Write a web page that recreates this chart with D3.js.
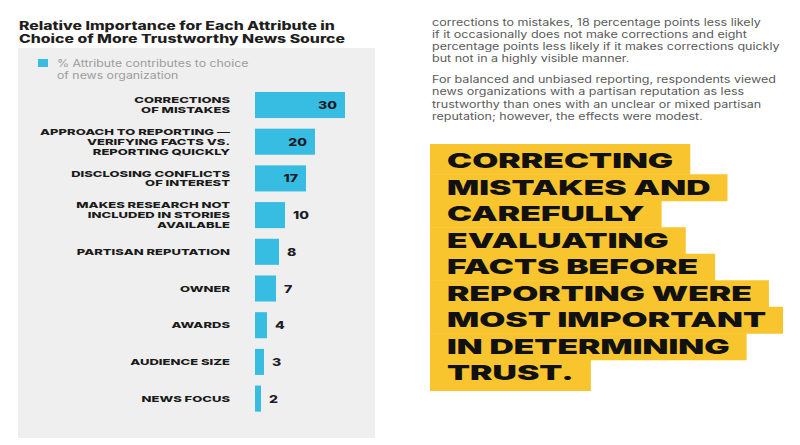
<!DOCTYPE html>
<html><head><meta charset="utf-8">
<script src="https://cdn.jsdelivr.net/npm/d3@7"></script>
<style>html,body{margin:0;padding:0;background:#fff;}svg{display:block;}</style>
</head><body>
<svg id="c" width="800" height="445"></svg>
<script>
// ---- data ----
const titleLines = ["Relative Importance for Each Attribute in", "Choice of More Trustworthy News Source"];
const legendLines = ["% Attribute contributes to choice", "of news organization"];
const categories = [
  "CORRECTIONS|OF MISTAKES",
  "APPROACH TO REPORTING —|VERIFYING FACTS VS.|REPORTING QUICKLY",
  "DISCLOSING CONFLICTS|OF INTEREST",
  "MAKES RESEARCH NOT|INCLUDED IN STORIES|AVAILABLE",
  "PARTISAN REPUTATION",
  "OWNER",
  "AWARDS",
  "AUDIENCE SIZE",
  "NEWS FOCUS"
];
const values = [30, 20, 17, 10, 8, 7, 4, 3, 2];
const paragraph1 = [
  "corrections to mistakes, 18 percentage points less likely",
  "if it occasionally does not make corrections and eight",
  "percentage points less likely if it makes corrections quickly",
  "but not in a highly visible manner."
];
const paragraph2 = [
  "For balanced and unbiased reporting, respondents viewed",
  "news organizations with a partisan reputation as less",
  "trustworthy than ones with an unclear or mixed partisan",
  "reputation; however, the effects were modest."
];
const calloutLines = [
  "CORRECTING", "MISTAKES AND", "CAREFULLY", "EVALUATING", "FACTS BEFORE",
  "REPORTING WERE", "MOST IMPORTANT", "IN DETERMINING", "TRUST."
];

// ---- layout ----
const svg = d3.select("#c");
const BLUE = "#37bde1", YELLOW = "#f9c52f";
const FONT = "Inter, 'DejaVu Sans', sans-serif";

svg.append("rect").attr("width", 800).attr("height", 445).attr("fill", "#fff");

// helper: multi-line text blocks (tspans) with a common horizontal stretch fitted to a reference line width
function stretchedBlocks(g, items, opts) {
  const t = g.selectAll(null).data(items).join("text")
    .attr("x", 0).attr("y", 0)
    .attr("font-family", opts.family || FONT)
    .attr("font-size", opts.size)
    .attr("font-weight", opts.weight)
    .attr("fill", opts.fill)
    .attr("text-anchor", d => d.anchor || "start");
  t.each(function (d) {
    d3.select(this).selectAll("tspan").data(d.lines).join("tspan")
      .attr("x", 0).attr("dy", (l, j) => j === 0 ? 0 : opts.lead)
      .text(l => l);
  });
  let sx = 1;
  t.each(function (d) {
    if (d.refLine != null) {
      const node = d3.select(this).selectAll("tspan").nodes()[d.refLine];
      sx = opts.target / node.getComputedTextLength();
    }
  });
  t.attr("transform", d => `translate(${d.x},${d.y}) scale(${sx},1)`);
  return { sel: t, sx };
}

// title
stretchedBlocks(svg.append("g"), [{ lines: titleLines, x: 19, y: 29.5, refLine: 0 }],
  { size: 11.2, weight: 800, fill: "#1e1e1e", target: 316, lead: 13.6 });

// panel
svg.append("rect").attr("x", 18).attr("y", 48).attr("width", 357).attr("height", 390).attr("fill", "#efefef");

// legend
svg.append("rect").attr("x", 38).attr("y", 59).attr("width", 10).attr("height", 8).attr("fill", BLUE);
stretchedBlocks(svg.append("g"), [{ lines: legendLines, x: 57, y: 67, refLine: 0 }],
  { size: 9.9, weight: 400, fill: "#9c9c9c", target: 191, lead: 12 });

// scales
const x = d3.scaleLinear().domain([0, d3.max(values)]).range([255, 345]);
const y = d3.scaleBand().domain(categories).range([86.65, 416.95]).paddingInner(0.29).paddingOuter(0.145);

const chart = svg.append("g");
chart.selectAll("rect.bar").data(values).join("rect").attr("class", "bar")
  .attr("x", x(0)).attr("y", (d, i) => y(categories[i]))
  .attr("width", d => x(d) - x(0)).attr("height", y.bandwidth())
  .attr("fill", BLUE);

// category labels
const LEAD = 9.9;
const labelItems = categories.map(c => {
  const lines = c.split("|");
  const cy = y(c) + y.bandwidth() / 2;
  return {
    lines, anchor: "end", x: 230,
    y: cy - (lines.length - 1) / 2 * LEAD + 3.1,
    refLine: c === "PARTISAN REPUTATION" ? 0 : null
  };
});
stretchedBlocks(chart.append("g"), labelItems, { size: 8.2, weight: 800, fill: "#1a1a1a", target: 153, lead: LEAD });

// value labels
const valItems = values.map((v, i) => {
  const inside = x(v) - x(0) > 40;
  return {
    lines: [String(v)], anchor: inside ? "end" : "start",
    x: inside ? x(v) - 8 : x(v) + 8,
    y: y(categories[i]) + y.bandwidth() / 2 + 4,
    refLine: i === 0 ? 0 : null
  };
});
stretchedBlocks(chart.append("g"), valItems, { size: 11, weight: 800, fill: "#1b1b28", target: 19, lead: 0 });

// body text
stretchedBlocks(svg.append("g"), [
  { lines: paragraph1, x: 432, y: 25.5, refLine: 2 },
  { lines: paragraph2, x: 432, y: 83 }
], { size: 10, weight: 400, fill: "#5a5a5a", target: 348, lead: 12.3 });

// callout
const cg = svg.append("g");
const bgG = cg.append("g"), txG = cg.append("g");
const c0 = 161, cstep = 26.5;
const cItems = calloutLines.map((s, i) => ({ lines: [s], x: 447, y: c0 + i * cstep + 7.3, refLine: s === "REPORTING WERE" ? 0 : null }));
const ct = stretchedBlocks(txG, cItems, { size: 20, weight: 900, fill: "#111", target: 305, lead: 0 });
ct.sel.each(function (d, i) {
  const w = this.getComputedTextLength() * ct.sx;
  const cy = c0 + i * cstep;
  const top = i === 0 ? cy - 17 : cy - cstep / 2;
  const bot = i === calloutLines.length - 1 ? cy + 18 : cy + cstep / 2 + 0.5;
  bgG.append("rect").attr("x", 430).attr("y", top).attr("width", 447 + w + 17 - 430).attr("height", bot - top).attr("fill", YELLOW);
});
</script>
</body></html>
